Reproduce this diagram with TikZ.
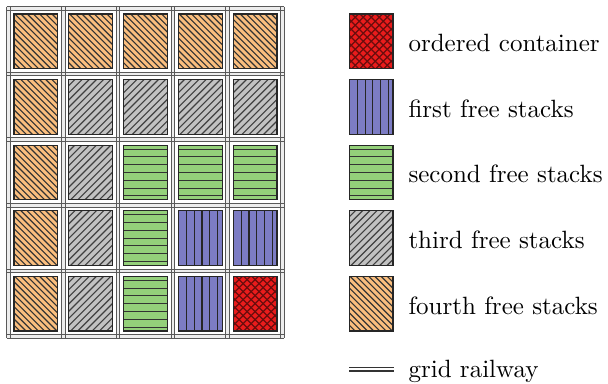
\documentclass[tikz,border=0pt]{standalone}

\definecolor{ordF}{RGB}{234,28,28}
\definecolor{firstF}{RGB}{124,124,196}
\definecolor{secondF}{RGB}{148,208,122}
\definecolor{thirdF}{RGB}{194,194,194}
\definecolor{fourthF}{RGB}{250,190,126}

\begin{document}
\begin{tikzpicture}[x=0.4pt,y=-0.4pt,
  cell/.style={draw=black!85, line width=0.5pt, inner sep=0pt, outer sep=0pt,
    minimum width=17.5pt, minimum height=21.8pt},
  kind/.style={#1},
  stripe/.style={line width=0.45pt, draw=black!80},
  ordbox/.style={cell, fill=ordF, path picture={
      \foreach \k in {-14,...,14} {
        \draw[line width=0.5pt, draw=ordF!45!black]
          ([shift={(\k*8-40,-40)}]path picture bounding box.center) -- ++(80,80);
        \draw[line width=0.5pt, draw=ordF!45!black]
          ([shift={(\k*8-40,40)}]path picture bounding box.center) -- ++(80,-80);
      }}},
  fsA/.style={cell, fill=firstF, path picture={
      \foreach \k in {-2,...,2}
        \draw[stripe, draw=black!85]
          ([shift={(\k*7.75+1.7,-40)}]path picture bounding box.center) -- ++(0,80);}},
  fsB/.style={cell, fill=secondF, path picture={
      \foreach \k in {-3,...,3}
        \draw[stripe, draw=black!80]
          ([shift={(-30,\k*7.8)}]path picture bounding box.center) -- ++(60,0);}},
  fsC/.style={cell, fill=thirdF, path picture={
      \foreach \k in {-14,...,14}
        \draw[stripe, draw=black!75]
          ([shift={(\k*7.2-40,40)}]path picture bounding box.center) -- ++(80,-80);}},
  fsD/.style={cell, fill=fourthF, path picture={
      \foreach \k in {-16,...,16}
        \draw[stripe]
          ([shift={(\k*6.2-40,-40)}]path picture bounding box.center) -- ++(80,80);}},
  railband/.style={fill=black!7, draw=none},
  railline/.style={draw=black!65, line width=0.45pt},
  legtext/.style={anchor=base west, inner sep=0pt}]

\useasboundingbox (0,0) rectangle (608,384);

% bands between the two rails of every track
\foreach \k in {0,...,5} {
  \fill[railband] (6.7,{8.5+\k*65.6-1.8}) rectangle (284.3,{8.5+\k*65.6+1.8});
  \fill[railband] ({8.5+\k*54.8-1.8},6.7) rectangle ({8.5+\k*54.8+1.8},338.3);
}
% the rails themselves
\foreach \k in {0,...,5} {
  \foreach \s in {-1.8,1.8} {
    \draw[railline] (6.7,{8.5+\k*65.6+\s}) -- (284.3,{8.5+\k*65.6+\s});
    \draw[railline] ({8.5+\k*54.8+\s},6.7) -- ({8.5+\k*54.8+\s},338.3);
  }
}

% stacks: column/row/kind
\foreach \c/\r/\t in {
  1/1/fsD, 2/1/fsD, 3/1/fsD, 4/1/fsD, 5/1/fsD,
  1/2/fsD, 2/2/fsC, 3/2/fsC, 4/2/fsC, 5/2/fsC,
  1/3/fsD, 2/3/fsC, 3/3/fsB, 4/3/fsB, 5/3/fsB,
  1/4/fsD, 2/4/fsC, 3/4/fsB, 4/4/fsA, 5/4/fsA,
  1/5/fsD, 2/5/fsC, 3/5/fsB, 4/5/fsA, 5/5/ordbox} {
  \node[kind/.expand once=\t] (s-\r-\c) at ({8.5+(\c-0.5)*54.8},{8.5+(\r-0.5)*65.6}) {};
}

% legend
\node[ordbox] (l-ord) at (371.2,41.3) {};
\node[fsA]    (l-a)   at (371.2,106.9) {};
\node[fsB]    (l-b)   at (371.2,172.5) {};
\node[fsC]    (l-c)   at (371.2,238.1) {};
\node[fsD]    (l-d)   at (371.2,303.7) {};

\node[legtext] (t-ord) at (408,51.7)  {ordered container};
\node[legtext] (t-a)   at (408,117.3) {first free stacks};
\node[legtext] (t-b)   at (408,182.9) {second free stacks};
\node[legtext] (t-c)   at (408,248.5) {third free stacks};
\node[legtext] (t-d)   at (408,314.1) {fourth free stacks};

\coordinate (r-w) at (349,369.3);
\coordinate (r-e) at (394,369.3);
\draw[draw=black!80, line width=0.45pt] ([yshift=0.7pt]r-w) -- ([yshift=0.7pt]r-e);
\draw[draw=black!80, line width=0.45pt] ([yshift=-0.7pt]r-w) -- ([yshift=-0.7pt]r-e);
\node[legtext] (t-r) at (408,378) {grid railway};
\end{tikzpicture}
\end{document}
